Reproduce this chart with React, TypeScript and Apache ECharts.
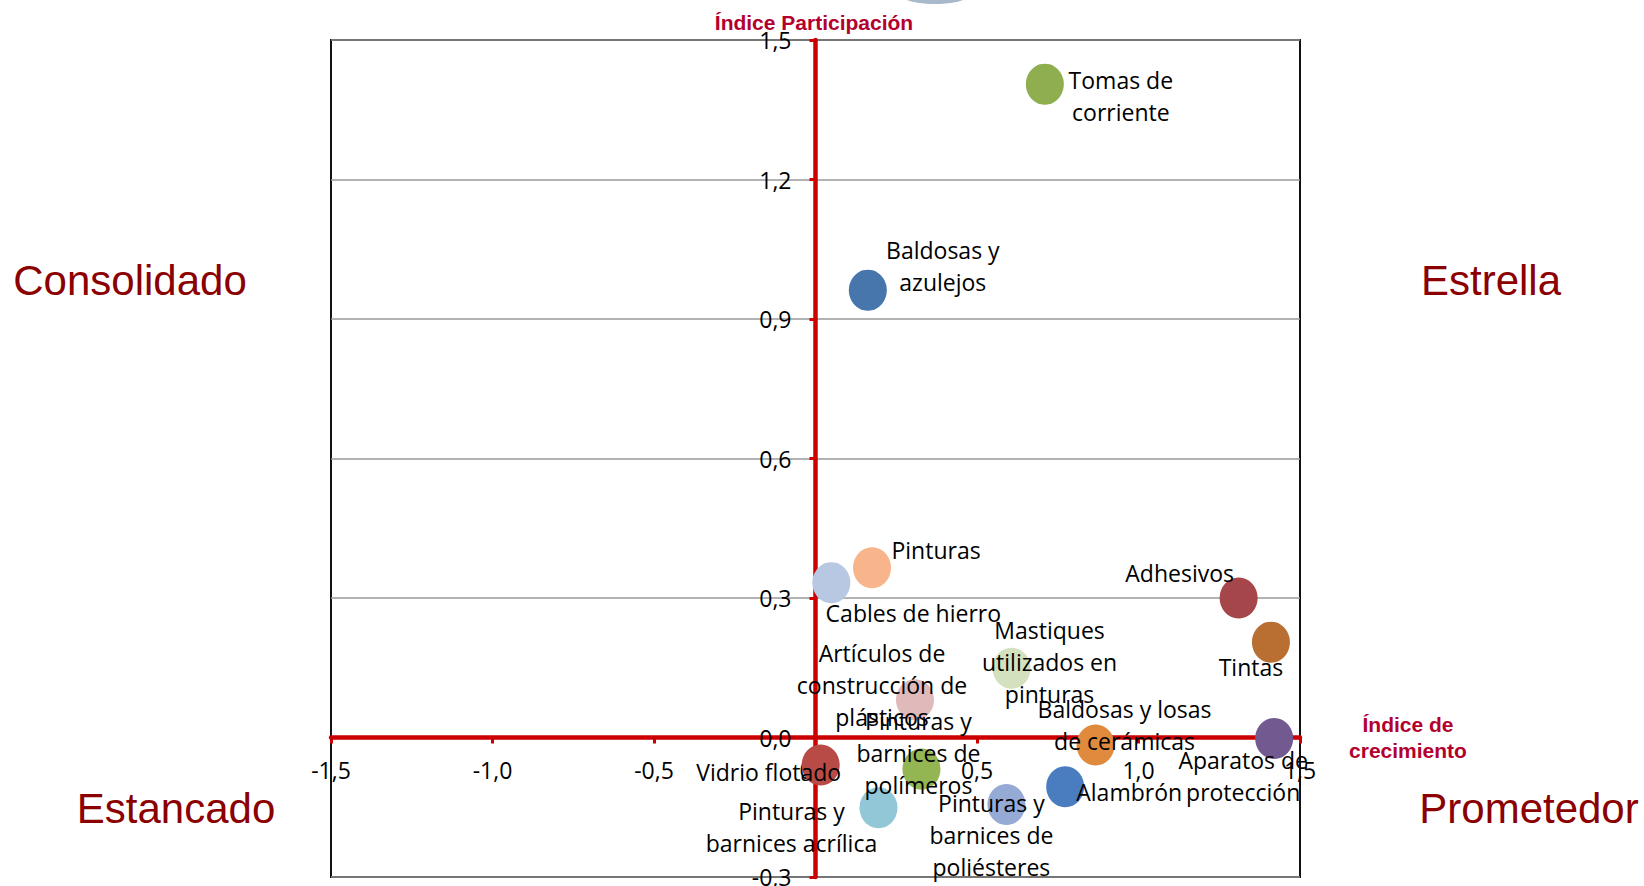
import React, { useEffect, useRef } from 'react';
import * as echarts from 'echarts';

const productos = [
  'Tomas de corriente',
  'Baldosas y azulejos',
  'Pinturas',
  'Cables de hierro',
  'Adhesivos',
  'Tintas',
  'Mastiques utilizados en pinturas',
  'Artículos de construcción de plásticos',
  'Aparatos de protección',
  'Baldosas y losas de cerámicas',
  'Vidrio flotado',
  'Pinturas y barnices de polímeros',
  'Alambrón',
  'Pinturas y barnices de poliésteres',
  'Pinturas y barnices acrílica',
];

const etiquetas = [
  'Tomas de\ncorriente',
  'Baldosas y\nazulejos',
  'Pinturas',
  'Cables de hierro',
  'Adhesivos',
  'Tintas',
  'Mastiques\nutilizados en\npinturas',
  'Artículos de\nconstrucción de\nplásticos',
  'Aparatos de\nprotección',
  'Baldosas y losas\nde cerámicas',
  'Vidrio flotado',
  'Pinturas y\nbarnices de\npolímeros',
  'Alambrón',
  'Pinturas y\nbarnices de\npoliésteres',
  'Pinturas y\nbarnices acrílica',
];

// Índice de crecimiento (x)
const crecimiento = [0.71, 0.162, 0.175, 0.049, 1.31, 1.41, 0.607, 0.308, 1.42, 0.867, 0.016, 0.328, 0.773, 0.591, 0.195];
// Índice Participación (y)
const participacion = [1.405, 0.962, 0.365, 0.333, 0.3, 0.205, 0.149, 0.081, -0.002, -0.016, -0.059, -0.068, -0.106, -0.144, -0.151];

const colores = [
  '#8eae4f', '#4776ad', '#f8b48a', '#b8c7e2', '#a5464a', '#b96f31', '#d3e1bf', '#e0babb',
  '#72598f', '#e08a3e', '#b94b47', '#93b552', '#4a7dc0', '#96aad6', '#92c7d8',
];

const xMin = -1.5, xMax = 1.5, xStep = 0.5;
const yMin = -0.3, yMax = 1.5, yStep = 0.3;

const cuadrantes = ['Consolidado', 'Estrella', 'Estancado', 'Prometedor'];
const tituloY = 'Índice Participación';
const tituloX = 'Índice de\ncrecimiento';

// label placement (layout only)
const labelOffsets: [number, number][] = [
  [76, 12], [75, -24], [64, -18], [82, 30], [-59, -25], [-20, 25], [38, -6], [-33, -15],
  [-31, 38], [29, -20], [-52, 7], [-3, -16], [64, 5], [-15, 31], [-87, 19],
];

const fmt = (v: number) => (Math.round(v * 10) / 10).toFixed(1).replace('.', ',').replace('-0,0', '0,0');

export default function App() {
  const ref = useRef<HTMLDivElement>(null);
  useEffect(() => {
    if (!ref.current) return;
    const chart = echarts.init(ref.current, undefined, { renderer: 'svg' });
    const red = '#cc0000';
    const quadColor = '#8b0000';
    const quadFont = { fontFamily: 'Liberation Sans', fontSize: 42, fill: quadColor };
    const gL = 331, gT = 40, gW = 969, gH = 837;
    // shift axes so they cross at zero (line, ticks and labels together)
    const xAxisOffset = -(gH * (0 - yMin) / (yMax - yMin));
    const yAxisOffset = -(gW * (0 - xMin) / (xMax - xMin));
    chart.setOption({
      animation: false,
      backgroundColor: '#fff',
      grid: {
        left: gL, top: gT, width: gW, height: gH,
        containLabel: false, outerBoundsMode: 'none',
        show: true, borderColor: '#111', borderWidth: 2, backgroundColor: 'transparent',
      },
      xAxis: {
        type: 'value', min: xMin, max: xMax, interval: xStep,
        position: 'bottom', offset: xAxisOffset,
        axisLine: { show: true, onZero: false, lineStyle: { color: red, width: 4.5 } },
        axisTick: { show: true, length: 6, lineStyle: { color: red, width: 3 } },
        axisLabel: {
          formatter: fmt, color: '#000', fontFamily: 'Open Sans', fontSize: 23, margin: 21,
          showMinLabel: true, showMaxLabel: true,
        },
        splitLine: { show: false },
      },
      yAxis: {
        type: 'value', min: yMin, max: yMax, interval: yStep,
        position: 'left', offset: yAxisOffset,
        axisLine: { show: true, onZero: false, lineStyle: { color: red, width: 4.5 } },
        axisTick: { show: true, length: 6, lineStyle: { color: red, width: 3 } },
        axisLabel: {
          formatter: fmt, color: '#000', fontFamily: 'Open Sans', fontSize: 23, margin: 24,
          showMinLabel: true, showMaxLabel: true,
        },
        splitLine: { show: true, lineStyle: { color: '#999', width: 1.5 } },
      },
      series: [
        {
          type: 'scatter',
          symbol: 'circle',
          symbolSize: [38, 41],
          z: 3,
          label: {
            show: true, position: 'inside', color: '#000', fontFamily: 'Open Sans',
            fontSize: 23, lineHeight: 32, align: 'center', verticalAlign: 'middle',
            textBorderWidth: 0,
          },
          data: productos.map((p, i) => ({
            name: p,
            value: [crecimiento[i], participacion[i]],
            itemStyle: { color: colores[i], opacity: 1 },
            label: { formatter: etiquetas[i], offset: labelOffsets[i] },
          })),
        },
      ],
      graphic: [
        { type: 'ellipse', shape: { cx: 935, cy: -5, rx: 34, ry: 9 }, style: { fill: '#5e7f9e', opacity: 0.55 }, silent: true },
        { type: 'text', x: 130, y: 280, style: { ...quadFont, text: cuadrantes[0], align: 'center', verticalAlign: 'middle' } },
        { type: 'text', x: 1491, y: 280, style: { ...quadFont, text: cuadrantes[1], align: 'center', verticalAlign: 'middle' } },
        { type: 'text', x: 176, y: 808, style: { ...quadFont, text: cuadrantes[2], align: 'center', verticalAlign: 'middle' } },
        { type: 'text', x: 1529, y: 808, style: { ...quadFont, text: cuadrantes[3], align: 'center', verticalAlign: 'middle' } },
        {
          type: 'text', x: 814, y: 22,
          style: { text: tituloY, fontFamily: 'Liberation Sans', fontWeight: 'bold', fontSize: 21, fill: '#b3002d', align: 'center', verticalAlign: 'middle' },
        },
        {
          type: 'text', x: 1408, y: 737,
          style: { text: tituloX, fontFamily: 'Liberation Sans', fontWeight: 'bold', fontSize: 21, lineHeight: 26, fill: '#b3002d', align: 'center', verticalAlign: 'middle' },
        },
      ],
    });
    return () => chart.dispose();
  }, []);
  return <div ref={ref} style={{ position: 'absolute', left: 0, top: 0, width: 1644, height: 886 }} />;
}
